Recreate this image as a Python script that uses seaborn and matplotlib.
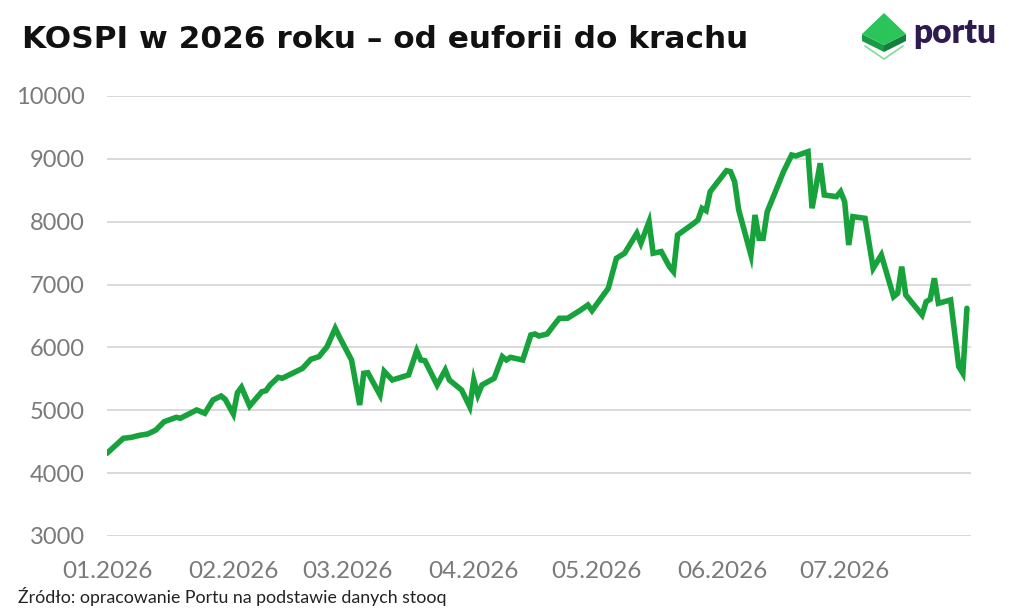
import pandas as pd
import matplotlib.pyplot as plt
import matplotlib.dates as mdates
from matplotlib.patches import Polygon
from matplotlib.lines import Line2D
import seaborn as sns

# KOSPI closes (turning points)
dates = ["2026-01-01", "2026-01-05", "2026-01-07", "2026-01-09", "2026-01-11", "2026-01-13",
         "2026-01-15", "2026-01-18", "2026-01-19", "2026-01-23", "2026-01-25", "2026-01-27",
         "2026-01-29", "2026-01-30", "2026-02-01", "2026-02-02", "2026-02-03", "2026-02-05",
         "2026-02-08", "2026-02-09", "2026-02-10", "2026-02-12", "2026-02-13", "2026-02-18",
         "2026-02-20", "2026-02-22", "2026-02-24", "2026-02-26", "2026-02-27", "2026-03-02",
         "2026-03-04", "2026-03-05", "2026-03-06", "2026-03-09", "2026-03-10", "2026-03-12",
         "2026-03-16", "2026-03-18", "2026-03-19", "2026-03-20", "2026-03-23", "2026-03-25",
         "2026-03-26", "2026-03-29", "2026-03-31", "2026-04-01", "2026-04-02", "2026-04-03",
         "2026-04-06", "2026-04-08", "2026-04-09", "2026-04-10", "2026-04-13", "2026-04-15",
         "2026-04-16", "2026-04-17", "2026-04-19", "2026-04-21", "2026-04-22", "2026-04-24",
         "2026-04-27", "2026-04-29", "2026-04-30", "2026-05-04", "2026-05-06", "2026-05-08",
         "2026-05-11", "2026-05-12", "2026-05-14", "2026-05-15", "2026-05-17", "2026-05-19",
         "2026-05-20", "2026-05-21", "2026-05-25", "2026-05-26", "2026-05-27", "2026-05-28",
         "2026-05-29", "2026-06-02", "2026-06-03", "2026-06-04", "2026-06-05", "2026-06-08",
         "2026-06-09", "2026-06-10", "2026-06-11", "2026-06-12", "2026-06-16", "2026-06-18",
         "2026-06-19", "2026-06-22", "2026-06-23", "2026-06-25", "2026-06-26", "2026-06-29",
         "2026-06-30", "2026-07-01", "2026-07-02", "2026-07-03", "2026-07-06", "2026-07-08",
         "2026-07-10", "2026-07-13", "2026-07-14", "2026-07-15", "2026-07-16", "2026-07-20",
         "2026-07-21", "2026-07-22", "2026-07-23", "2026-07-24", "2026-07-27", "2026-07-29",
         "2026-07-30", "2026-07-31"]
kospi = [4316, 4554, 4570, 4602, 4623, 4686,
         4818, 4888, 4873, 5005, 4952, 5164,
         5227, 5175, 4941, 5280, 5366, 5068,
         5296, 5312, 5402, 5525, 5509, 5668,
         5811, 5853, 6012, 6304, 6171, 5800,
         5084, 5589, 5598, 5243, 5620, 5482,
         5562, 5948, 5800, 5789, 5402, 5641,
         5482, 5323, 5057, 5482, 5243, 5402,
         5509, 5853, 5800, 5843, 5800, 6198,
         6214, 6182, 6214, 6384, 6464, 6464,
         6585, 6675, 6585, 6941, 7418, 7498,
         7816, 7657, 8000, 7498, 7525, 7285,
         7205, 7789, 7975, 8028, 8214, 8176,
         8478, 8812, 8797, 8637, 8187, 7471,
         8107, 7736, 7736, 8160, 8797, 9062,
         9046, 9114, 8214, 8930, 8425, 8399,
         8478, 8319, 7630, 8081, 8054, 7259,
         7471, 6807, 6861, 7285, 6834, 6516,
         6728, 6766, 7100, 6702, 6755, 5694,
         5588, 6623]

month_ticks = ["2026-01-01", "2026-02-01", "2026-03-01", "2026-04-01",
               "2026-05-01", "2026-06-01", "2026-07-01"]
y_ticks = [3000, 4000, 5000, 6000, 7000, 8000, 9000, 10000]

title = "KOSPI w 2026 roku – od euforii do krachu"
source = "Źródło: opracowanie Portu na podstawie danych stooq"

df = pd.DataFrame({"date": pd.to_datetime(dates), "kospi": kospi})

sns.set_style("white")
plt.rcParams['font.family'] = ['Lato', 'DejaVu Sans']

W, H = 1024, 615
fig = plt.figure(figsize=(W / 100, H / 100), dpi=100)
ax = fig.add_axes([107 / W, 1 - 536 / H, (971 - 107) / W, (536 - 96) / H])

sns.lineplot(data=df, x="date", y="kospi", ax=ax, color="#17a23c", linewidth=4,
             solid_joinstyle="miter", zorder=3)

ax.set_ylim(3000, 10000)
ax.set_xlim(pd.Timestamp("2026-01-01"), pd.Timestamp("2026-08-01"))
ax.set_yticks(y_ticks)
ax.set_xticks(pd.to_datetime(month_ticks))
ax.xaxis.set_major_formatter(mdates.DateFormatter("%m.%Y"))
ax.grid(axis="y", color="#d9d9d9", linewidth=1.4, zorder=0)
for s in ax.spines.values():
    s.set_visible(False)
ax.tick_params(axis="y", length=0, pad=16, labelsize=17, labelcolor="#7a7a7a")
ax.tick_params(axis="x", length=8, width=1.2, color="#d9d9d9", pad=10,
               labelsize=17.5, labelcolor="#7a7a7a")
ax.set_xlabel("")
ax.set_ylabel("")

fig.text(22 / W, 1 - 40 / H, title, fontsize=22.4, fontweight="bold", color="#111111",
         va="center", ha="left", family=["DejaVu Sans"])
fig.text(18 / W, 1 - 596 / H, source, fontsize=12.8, color="#222222", va="center", ha="left")

# portu logo
def px(pts):
    return [(x / W, 1 - y / H) for x, y in pts]

fig.patches.append(Polygon(px([(862, 34), (884, 45), (884, 52), (862, 41)]), closed=True,
                           transform=fig.transFigure, facecolor="#1a9a45", edgecolor="none"))
fig.patches.append(Polygon(px([(906, 34), (884, 45), (884, 52), (906, 41)]), closed=True,
                           transform=fig.transFigure, facecolor="#12803a", edgecolor="none"))
fig.patches.append(Polygon(px([(884, 13), (906, 34), (884, 45), (862, 34)]), closed=True,
                           transform=fig.transFigure, facecolor="#2bc45a", edgecolor="none"))
fig.lines.append(Line2D([865 / W, 884 / W, 903 / W], [1 - 46 / H, 1 - 59 / H, 1 - 46 / H],
                        transform=fig.transFigure, color="#7fdc9a", linewidth=1.2))
fig.text(913 / W, 1 - 33 / H, "portu", fontsize=24, fontweight="heavy", color="#2e1a4f",
         va="center", ha="left")

fig.savefig("out.png", dpi=100, facecolor="white")
